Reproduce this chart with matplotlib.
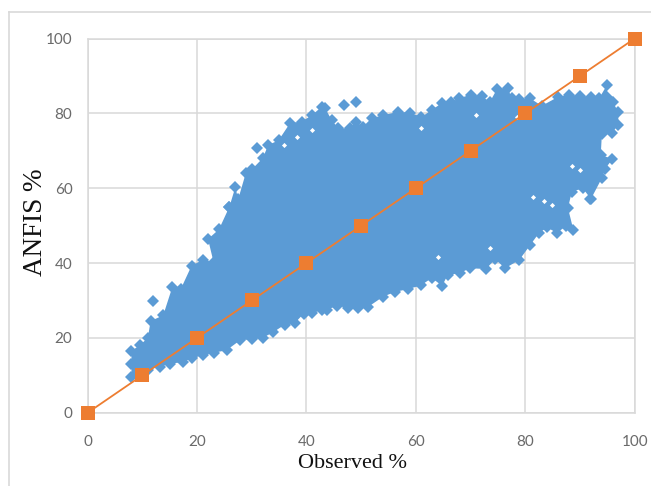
"""ANFIS vs observed scatter with the 1:1 line"""

import matplotlib
matplotlib.use("Agg")
import matplotlib.pyplot as plt
from matplotlib.lines import Line2D

# outline of the solid point cloud, read clockwise from the lower left
edge_obs = [8, 8, 8, 9.5, 11, 11.5, 13.8, 15.5, 17, 19, 21, 23, 22, 24, 25.9, 27, 27.5, 28.9, 30,
            32, 33, 34.9, 37, 39.1, 41, 42.8, 43.4, 44.6, 45.8, 48, 49, 50.3, 51.9, 54, 56.7,
            58.9, 61, 62.9, 64.8, 66.5, 67.9, 70, 72, 73.5, 74.8, 76.8, 77.5, 78.9, 80.9, 83,
            86, 88, 90, 92.1, 93.5, 94.9, 95, 96, 97, 97, 95.8, 94, 93.8, 95.9, 94.5, 94, 92,
            90.5, 88.5, 87.8, 88.8, 87.5, 85.8, 84, 82.5, 80.9, 78.9, 76.3, 74.5, 72.8, 69.9,
            68, 65.8, 64.8, 62.9, 60.9, 58.5, 56.2, 54, 51.3, 49.4, 47.6, 45.5, 43.7, 42.8,
            41, 39.5, 37.9, 36, 33.9, 32, 30, 27.9, 25.4, 23, 21.1, 19, 17.4, 15, 13.2, 11, 9.5]
edge_anfis = [9.6, 13, 16.5, 18, 20, 24.5, 26, 33.7, 33, 39.3, 40.8, 40.3, 46.4, 49, 55, 60.3, 57,
              64, 65, 68, 71.5, 72.8, 77.4, 77.8, 79.5, 81.8, 81.4, 78.2, 76, 76, 77.8, 76.4,
              78.7, 79.5, 80.4, 80.2, 79, 80.9, 82.8, 83, 84, 85, 84.7, 83, 86.4, 86.9, 84,
              83.7, 84, 82, 84.4, 84.9, 84.7, 84.4, 84, 87.5, 84.5, 83, 80.4, 76.9, 74.7, 74.5,
              69, 67.7, 65, 62.7, 57.1, 60, 59, 54.7, 48.8, 50, 48, 49.5, 48, 44.8, 40.8, 38.6,
              41, 38.4, 38.6, 37.3, 36.8, 33.9, 36, 34, 33, 32.3, 31, 28.3, 28, 28, 28.6, 27.4,
              27.4, 26.6, 26.5, 24, 23.5, 21.5, 20, 19.6, 19.4, 16.7, 16, 15.4, 14.5, 13.6, 13,
              12.3, 11.5, 10.5]

# points that sit clear of the cloud
lone_obs = [46.9, 49, 30.9, 12, 25.9, 91.9]
lone_anfis = [82.2, 83.1, 70.8, 29.8, 55, 57.1]

# small white gaps left between the points
gap_obs = [88.5, 90, 81.4, 84.8, 83.5, 38.2, 41, 35.8, 61, 71, 64, 73.5, 78.5]
gap_anfis = [65.8, 64.9, 57.7, 55.5, 56.5, 73.8, 75.5, 71.5, 76, 79.6, 41.7, 44, 79]

# 1:1 reference line
line_values = [0, 10, 20, 30, 40, 50, 60, 70, 80, 90, 100]

ticks = [0, 20, 40, 60, 80, 100]

BLUE = "#5b9bd5"
ORANGE = "#ed7d31"
GRID = "#d9d9d9"
TICK = "#6a6a6a"
W, H = 651, 486

fig = plt.figure(figsize=(W / 100, H / 100), dpi=100, facecolor="white")
ax = fig.add_axes([87.7 / W, 1 - 412.7 / H, (634.7 - 87.7) / W, (412.7 - 38.5) / H])

# chart frame, runs off the right and bottom of the picture
fig.add_artist(Line2D([9 / W, 9 / W], [0, 1 - 12 / H], color=GRID, lw=1.2))
fig.add_artist(Line2D([9 / W, 1], [1 - 12 / H, 1 - 12 / H], color=GRID, lw=1.2))

ax.set_xlim(0, 100)
ax.set_ylim(0, 100)
ax.set_xticks(ticks)
ax.set_yticks(ticks)
ax.grid(True, color=GRID, lw=1.1, zorder=0)
ax.set_axisbelow(True)
for spine in ax.spines.values():
    spine.set_color(GRID)
    spine.set_linewidth(1.1)
ax.tick_params(length=0, labelsize=11, labelcolor=TICK)
ax.tick_params(axis="x", pad=16)
ax.tick_params(axis="y", pad=11)
for lab in ax.get_xticklabels() + ax.get_yticklabels():
    lab.set_family("Lato")

ax.fill(edge_obs, edge_anfis, color=BLUE, lw=0, zorder=2)
ax.plot(edge_obs, edge_anfis, ls="none", marker="D", ms=6.5, mfc=BLUE, mec=BLUE, mew=0, zorder=2)
ax.plot(lone_obs, lone_anfis, ls="none", marker="D", ms=6.5, mfc=BLUE, mec=BLUE, mew=0, zorder=2)
ax.plot(gap_obs, gap_anfis, ls="none", marker="D", ms=2.6, mfc="white", mew=0, zorder=2.5)

ax.plot(line_values, line_values, color=ORANGE, lw=1.3, marker="s", ms=9.6, mew=0,
        clip_on=False, zorder=3)

fig.text(352 / W, 1 - 463 / H, "Observed %", family="Liberation Serif", fontsize=16,
         color="#111111", ha="center", va="center")
fig.text(35 / W, 1 - 222 / H, "ANFIS %", family="Liberation Serif", fontsize=19.5,
         color="#111111", rotation=90, ha="center", va="center")

fig.savefig("out.png", dpi=100, facecolor="white")
